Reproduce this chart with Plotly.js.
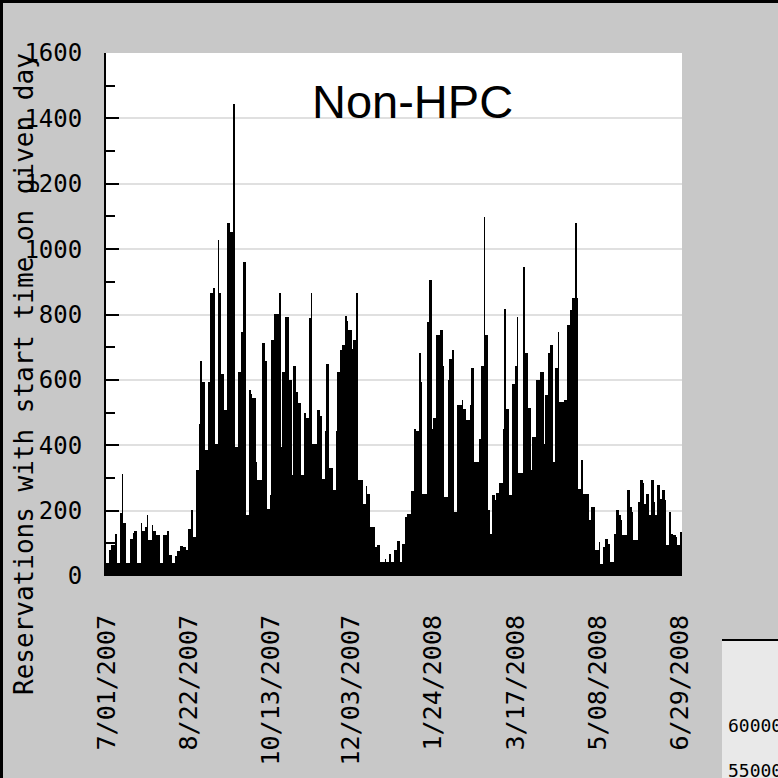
<!DOCTYPE html>
<html><head><meta charset="utf-8">
<script src="https://cdn.plot.ly/plotly-3.0.1.min.js"></script>
<style>html,body{margin:0;padding:0;background:#c8c8c8;} #chart{width:778px;height:778px;}</style>
</head><body><div id="chart"></div>
<script>
// Daily reservations with start time on given day (Non-HPC), 7/01/2007 - 6/30/2008
const jul2007 = [40,40,80,95,95,95,130,40,40,193,313,162,162,40,40,114,114,132,138,138,40,40,162,138,138,150,186,110,110,155,138];
const aug2007 = [138,125,125,40,40,125,125,125,138,63,63,40,40,60,77,77,91,91,89,89,80,145,145,203,119,119,323,323,466,658,594];
const sep2007 = [594,387,387,594,866,866,882,405,405,1028,866,619,619,507,507,1081,1081,1052,1052,1443,395,395,624,624,747,961,961,188,188,568];
const oct2007 = [558,546,546,349,293,293,293,713,713,658,206,206,249,721,721,801,801,803,866,395,624,624,793,793,601,601,308,642,642,563,530];
const nov2007 = [530,308,308,499,482,482,788,866,405,405,405,507,507,489,298,298,443,650,650,329,329,262,262,443,624,624,691,706,706,795];
const dec2007 = [781,752,752,693,723,723,866,293,293,293,221,221,274,252,252,150,150,150,89,94,94,43,43,43,53,43,43,68,43,43,81];
const jan2008 = [81,107,107,43,99,99,181,189,189,189,259,259,451,443,443,683,594,252,252,252,778,905,905,451,482,482,737,737,754,754,642];
const feb2008 = [242,242,601,665,665,691,196,196,522,522,522,538,512,512,477,477,522,635,635,349,349,349,420,642,642,1099,737,737,201];
const mar2008 = [130,247,247,232,254,254,283,283,451,818,512,512,249,249,587,587,642,793,315,315,315,946,681,681,514,514,323,426,426,601,601];
const apr2008 = [601,624,624,405,553,553,681,706,706,349,635,635,747,533,533,533,538,538,767,767,814,849,849,1081,849,267,267,354,252,252];
const may2008 = [252,252,170,211,211,211,79,79,104,38,38,89,114,114,99,43,43,43,130,203,203,188,170,124,124,124,262,262,211,196,109];
const jun2008 = [109,109,227,293,293,283,221,252,252,186,293,293,227,186,278,278,237,262,262,232,94,94,196,130,124,124,119,94,94,135];

const tickIndex  = [0, 52, 104, 155, 207, 260, 312, 364];
const tickLabels = ['7/01/2007','8/22/2007','10/13/2007','12/03/2007','1/24/2008','3/17/2008','5/08/2008','6/29/2008'];
const chartTitle = 'Non-HPC';
const yTitle = 'Reservations with start time on given day';
const fragmentLabels = ['60000', '55000'];

const values = [].concat(jul2007, aug2007, sep2007, oct2007, nov2007, dec2007,
                         jan2008, feb2008, mar2008, apr2008, may2008, jun2008);
const days = values.map((v, i) => i);

// plot-area pixel frame
const L = 106, R = 682, T = 53, B = 576;
const px = x => (x - L) / (R - L);
const py = y => (B - y) / (B - T);
const MONO = '"DejaVu Sans Mono", monospace';

const trace = {
  type: 'bar', x: days, y: values,
  marker: {color: '#000000', line: {width: 0}},
  hoverinfo: 'skip'
};

const layout = {
  width: 778, height: 778,
  margin: {l: L, r: 778 - R, t: T, b: 778 - B, pad: 0},
  paper_bgcolor: '#c8c8c8', plot_bgcolor: '#ffffff',
  bargap: 0, showlegend: false,
  font: {family: MONO, color: '#000000'},
  xaxis: {
    range: [-0.5, values.length - 0.5],
    tickmode: 'array', tickvals: tickIndex, ticktext: tickLabels,
    tickangle: -90, tickfont: {family: MONO, size: 25, color: '#000'},
    ticks: '', showgrid: false, zeroline: false, showline: false,
    ticklabelstandoff: 33, fixedrange: true
  },
  yaxis: {
    range: [0, 1600], tickmode: 'linear', tick0: 0, dtick: 200,
    ticks: 'inside', ticklen: 13, tickwidth: 2, tickcolor: '#000',
    showline: true, linecolor: '#000', linewidth: 2,
    showgrid: true, gridcolor: '#e0e0e0', gridwidth: 2,
    zeroline: false,
    minor: {dtick: 100, ticks: 'inside', ticklen: 9, tickwidth: 2, tickcolor: '#000', showgrid: false},
    tickfont: {family: MONO, size: 24, color: '#000'},
    ticklabelstandoff: 17, fixedrange: true
  },
  shapes: [
    {type: 'rect', xref: 'paper', yref: 'paper', x0: px(722), x1: px(800), y0: py(640), y1: py(800),
     fillcolor: '#e9e9e9', line: {width: 0}, layer: 'above'},
    {type: 'line', xref: 'paper', yref: 'paper', x0: px(722), x1: px(800), y0: py(640), y1: py(640),
     line: {color: '#000', width: 2}},
    {type: 'line', xref: 'paper', yref: 'paper', x0: px(1.5), x1: px(1.5), y0: py(-5), y1: py(800),
     line: {color: '#000', width: 3}},
    {type: 'line', xref: 'paper', yref: 'paper', x0: px(-5), x1: px(800), y0: py(1.5), y1: py(1.5),
     line: {color: '#000', width: 3}}
  ],
  annotations: [
    {text: chartTitle, xref: 'paper', yref: 'paper', x: px(412), y: py(102),
     xanchor: 'center', yanchor: 'middle', showarrow: false,
     font: {family: '"Liberation Sans", Arial, sans-serif', size: 47, color: '#000'}},
    {text: yTitle, xref: 'paper', yref: 'paper', x: px(24), y: py(374), textangle: -90,
     xanchor: 'center', yanchor: 'middle', showarrow: false,
     font: {family: MONO, size: 26, color: '#000'}},
    {text: fragmentLabels[0], xref: 'paper', yref: 'paper', x: px(726), y: py(725),
     xanchor: 'left', yanchor: 'middle', showarrow: false,
     font: {family: MONO, size: 18, color: '#000'}},
    {text: fragmentLabels[1], xref: 'paper', yref: 'paper', x: px(726), y: py(770),
     xanchor: 'left', yanchor: 'middle', showarrow: false,
     font: {family: MONO, size: 18, color: '#000'}}
  ]
};

Plotly.newPlot('chart', [trace], layout, {staticPlot: true, displayModeBar: false});
</script>
</body></html>
